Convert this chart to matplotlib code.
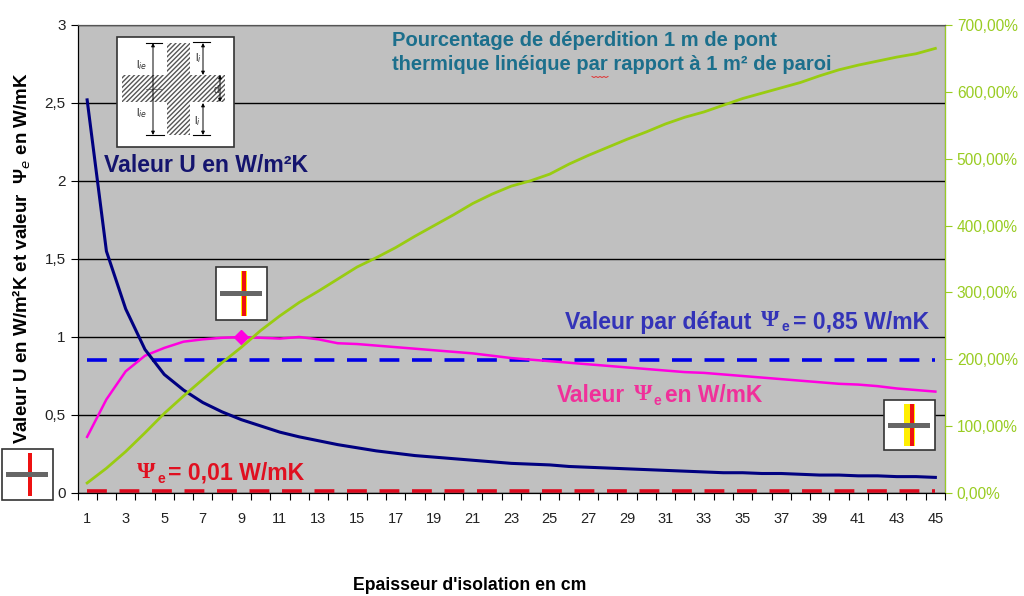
import numpy as np
import matplotlib
matplotlib.use("Agg")
import matplotlib.pyplot as plt
from matplotlib.patches import Rectangle

plt.rcParams['font.family'] = ['Liberation Sans', 'DejaVu Sans']

# epaisseur d'isolation en cm
epaisseur = list(range(1, 46))
valeur_u = [2.52, 1.55, 1.18, 0.92, 0.76, 0.66, 0.58, 0.52, 0.47, 0.43, 0.39, 0.36, 0.335, 0.31, 0.29,
            0.27, 0.255, 0.24, 0.23, 0.22, 0.21, 0.20, 0.19, 0.185, 0.18, 0.17, 0.165, 0.16, 0.155, 0.15,
            0.145, 0.14, 0.135, 0.13, 0.13, 0.125, 0.125, 0.12, 0.115, 0.115, 0.11, 0.11, 0.105, 0.105, 0.10]
valeur_psi = [0.36, 0.60, 0.78, 0.88, 0.93, 0.97, 0.985, 0.995, 1.0, 0.995, 0.99, 1.0, 0.985, 0.96, 0.955,
              0.945, 0.935, 0.925, 0.915, 0.905, 0.895, 0.88, 0.865, 0.855, 0.845, 0.835, 0.825, 0.815, 0.805, 0.795,
              0.785, 0.775, 0.77, 0.76, 0.75, 0.74, 0.73, 0.72, 0.71, 0.70, 0.695, 0.685, 0.67, 0.66, 0.65]
pourcentage = [15, 37, 62, 90, 119, 145, 170, 195, 218, 243, 265, 285, 302, 320, 338,
               352, 367, 384, 400, 416, 433, 447, 459, 467, 477, 492, 505, 517, 529, 540,
               552, 562, 570, 580, 590, 598, 606, 614, 624, 633, 640, 646, 652, 657, 665]
psi_defaut = [0.85] * 45
psi_faible = [0.01] * 45
pic_x = [9]
pic_y = [1.0]

fig = plt.figure(figsize=(10.24, 5.96), dpi=100)
ax = fig.add_axes([77.5/1024, 1-493/596, (945-77.5)/1024, (493-25)/596])
ax.set_facecolor('#c0c0c0')
ax.set_xlim(0.5, 45.5)
ax.set_ylim(0, 3)
ax.set_yticks([0, 0.5, 1, 1.5, 2, 2.5, 3])
ax.set_yticklabels(['0', '0,5', '1', '1,5', '2', '2,5', '3'], fontsize=11, color='#222222')
ax.grid(axis='y', color='black', lw=1)
ax.set_axisbelow(True)
ax.set_xticks(np.arange(0.5, 46, 1))
ax.set_xticklabels([])
ax.set_xticks(epaisseur[::2], [str(e) for e in epaisseur[::2]], minor=True, fontsize=10.5, color='#222222')
ax.tick_params(axis='x', which='major', length=5, width=0.8)
ax.tick_params(axis='x', which='minor', length=0, pad=14)
ax.tick_params(axis='y', length=5, width=0.8)

ax.plot(epaisseur, psi_defaut, color='#0000e6', lw=2.6, dashes=(5.5, 3.5), dash_capstyle='butt')
ax.plot(epaisseur, psi_faible, color='#dd0a1e', lw=2.6, dashes=(5.5, 3.5), dash_capstyle='butt', clip_on=False)
ax.plot(epaisseur, valeur_psi, color='#ff00e0', lw=1.8)
ax.plot(pic_x, pic_y, 'D', color='#ff00e0', ms=7)
ax.plot(epaisseur, valeur_u, color='#000080', lw=2.2)

ax2 = ax.twinx()
ax2.set_ylim(0, 700)
ax2.set_yticks(range(0, 701, 100))
ax2.set_yticklabels(['%d,00%%' % v for v in range(0, 701, 100)], fontsize=11.2, color='#99cc22')
ax2.tick_params(axis='y', color='#99cc22', length=5, width=0.8)
ax2.plot(epaisseur, pourcentage, color='#99cc11', lw=2)
ax2.spines['right'].set_color('#99cc22')
ax.spines['top'].set_color('#555555')
ax2.spines['top'].set_color('#555555')

# overlay en pixels pour les textes et les petits schemas
ov = fig.add_axes([0, 0, 1, 1], zorder=5)
ov.set_xlim(0, 1024)
ov.set_ylim(596, 0)
ov.axis('off')
ov.patch.set_alpha(0)


def txt(x, y, s, color='black', size=13, rot=0, ha='left', fam=None, bold=True):
    ov.text(x, y, s, color=color, fontsize=size, rotation=rot, ha=ha, va='center',
            fontweight='bold' if bold else 'normal', family=fam or ['Liberation Sans', 'DejaVu Sans'])


def icone(x0, y0, w, h, jaune=0):
    ov.add_patch(Rectangle((x0, y0), w, h, fc='white', ec='#333333', lw=1.2))
    xc = x0 + w/2 + 2
    if jaune:
        ov.add_patch(Rectangle((xc-jaune, y0+4), jaune+3, h-8, fc='#ffee00', ec='none'))
    ov.add_patch(Rectangle((xc-2, y0+4), 4, h-8, fc='#ee1111', ec='none'))
    ov.add_patch(Rectangle((x0+4, y0+h/2-2.5), w-9, 5, fc='#666666', ec='none'))


icone(216, 267, 51, 53, jaune=3)
icone(2, 449, 51, 51)
icone(884, 400, 51, 50, jaune=8)

# schema de la paroi
ov.add_patch(Rectangle((117, 37), 117, 110, fc='white', ec='#333333', lw=1.2))
ov.add_patch(Rectangle((122, 75), 103, 27, fc='white', ec='#555555', lw=0, hatch='///////'))
ov.add_patch(Rectangle((167, 43), 23, 92, fc='white', ec='#555555', lw=0, hatch='///////'))
for xa, ya, xb, yb in [(153, 43, 153, 135), (203, 43, 203, 75), (203, 103, 203, 135), (220, 75, 220, 102)]:
    ov.annotate('', xy=(xa, ya), xytext=(xb, yb), arrowprops=dict(arrowstyle='<|-|>', color='black', lw=0.7, mutation_scale=5, shrinkA=0, shrinkB=0))
for xa, xb, y in [(146, 162, 43), (146, 164, 135), (193, 210, 42), (193, 210, 135)]:
    ov.plot([xa, xb], [y, y], color='black', lw=0.8)
ov.plot([146, 162], [89, 89], color='#555555', lw=0.5)
txt(142, 65, 'l$_{ie}$', '#333333', 8, ha='center', bold=False)
txt(142, 113, 'l$_{ie}$', '#333333', 8, ha='center', bold=False)
txt(198, 58, 'l$_{i}$', '#333333', 8, ha='center', bold=False)
txt(197, 121, 'l$_{i}$', '#333333', 8, ha='center', bold=False)
txt(216, 90, 'd', '#333333', 7, ha='center', bold=False)

# textes
txt(392, 40, 'Pourcentage de déperdition 1 m de pont', '#1c6f8c', 14.5)
txt(392, 64, 'thermique linéique par rapport à 1 m² de paroi', '#1c6f8c', 14.5)
ov.plot(np.arange(592, 609, 2), [76.5, 77.5] * 4 + [76.5], color='#e03030', lw=0.7)
txt(104, 166, 'Valeur U en W/m²K', '#14146e', 16.6)
txt(565, 322, 'Valeur par défaut', '#3333b8', 16.6)
txt(761, 321, 'Ψ', '#3333b8', 17, fam=['Liberation Serif'])
txt(781, 327, 'e', '#3333b8', 10)
txt(793, 322, '= 0,85 W/mK', '#3333b8', 16.6)
txt(557, 396, 'Valeur', '#f0309a', 16.4)
txt(634, 395, 'Ψ', '#f0309a', 17, fam=['Liberation Serif'])
txt(654, 401, 'e', '#f0309a', 10)
txt(665, 396, 'en W/mK', '#f0309a', 16.4)
txt(137, 473, 'Ψ', '#e01020', 17, fam=['Liberation Serif'])
txt(157, 479, 'e', '#e01020', 10)
txt(168, 473, '= 0,01 W/mK', '#e01020', 16.6)
txt(470, 585, "Epaisseur d'isolation en cm", 'black', 12.7, ha='center')
txt(22, 258, 'Valeur U en W/m²K et valeur  Ψ$_e$ en W/mK', 'black', 13.5, rot=90, ha='center')

fig.savefig('out.png', dpi=100)
